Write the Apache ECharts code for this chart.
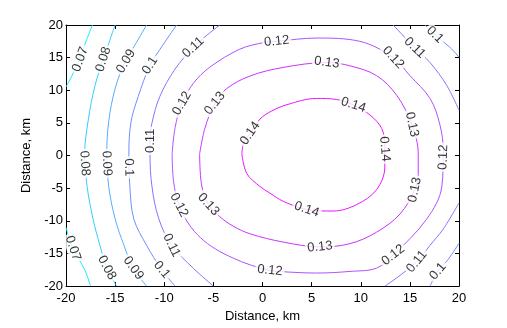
<!DOCTYPE html>
<html>
<head>
<meta charset="utf-8">
<script src="https://cdn.jsdelivr.net/npm/echarts@6/dist/echarts.min.js"></script>
<style>
    html, body { margin: 0; padding: 0; background: #fff; }
    #contour_chart { width: 507px; height: 328px; }
</style>
</head>
<body>
<div id="contour_chart"></div>
<script>
    // contour levels
    const levels = [0.07, 0.08, 0.09, 0.1, 0.11, 0.12, 0.13, 0.14];

    // contour lines as [x km, y km]
    const c07a = [[-17.3, 20], [-17.9, 17.75], [-18.75, 14.3], [-19.4, 12.2], [-20, 10.5]];
    const c07b = [[-20, -11], [-19.3, -14.2], [-18.1, -17.5], [-17.5, -20]];
    const c08 = [[-15.0, 20], [-16.2, 14.75], [-17.05, 10.7], [-17.75, 5.3], [-18.1, 0.2], [-17.85, -4.75],
        [-17.25, -9.7], [-16.55, -13.75], [-15.85, -17.2], [-14.85, -20]];
    const c09 = [[-11.8, 20], [-13.0, 16.9], [-13.95, 14.55], [-15.0, 10.25], [-15.65, 5.25], [-15.85, 0.25],
        [-15.65, -4.75], [-15.0, -9.7], [-14.1, -13.75], [-13.15, -17.25], [-11.8, -20]];
    const c10a = [[-8.75, 20], [-10.15, 16.9], [-11.45, 13.8], [-12.65, 9.05], [-13.4, 5.0], [-13.6, 0.25],
        [-13.5, -4.75], [-13.1, -9.7], [-11.8, -13.75], [-10.25, -17.5], [-8.9, -20]];
    const c10b = [[16.55, 20], [17.55, 18.5], [19.1, 16.55], [20, 15.05]];
    const c10c = [[20, -13.45], [18.9, -15.9], [17.85, -17.75], [17.05, -20]];
    const c11a = [[-4.35, 20], [-5.85, 18.2], [-7.05, 16.55], [-8.9, 13.25], [-10.45, 9.05], [-11.25, 5.0],
        [-11.45, 2.3], [-11.45, 0.25], [-11.25, -4.75], [-10.55, -9.7], [-9.25, -13.75], [-7.05, -17.25], [-5.0, -20]];
    const c11b = [[13.3, 20], [15.5, 16.5], [17.05, 14.25], [18.75, 10.75], [20, 6.95]];
    const c11c = [[20, -7.25], [18.4, -11.25], [17.05, -13.75], [15.7, -16.25], [13.65, -18.75], [12.45, -20]];
    const c12 = [[-9.2, 0.25], [-8.9, 4.25], [-8.2, 8.0], [-7.05, 11.05], [-5.35, 13.55], [-2.3, 16.3], [0.1, 17.3],
        [1.45, 17.5], [5.5, 18.0], [9.9, 17.5], [13.3, 15.0], [15.0, 12.25], [17.05, 8.75], [18.05, 4.75],
        [18.4, 0.75], [18.25, -4.75], [16.7, -9.75], [13.3, -15.25], [11.6, -17.25], [8.9, -17.75], [5.5, -18.0],
        [2.1, -17.8], [0.75, -17.6], [-1.25, -16.75], [-3.0, -15.7], [-4.8, -14.3], [-6.3, -12.6],
        [-7.5, -10.5], [-8.5, -7.6], [-9.05, -4.0], [-9.2, 0.25]];
    const c13 = [[-6.4, 0.25], [-5.85, 4.25], [-4.85, 8.0], [-3.65, 10.25], [-1.25, 12.2], [2.1, 13.5],
        [6.55, 14.25], [8.9, 13.75], [11.6, 12.25], [13.65, 9.25], [15.2, 4.75], [15.85, 0.25], [15.85, -2.75],
        [15.5, -5.25], [14.0, -8.95], [11.6, -11.75], [8.9, -13.5], [5.85, -14.0], [2.1, -13.25], [-1.25, -12.0],
        [-3.0, -10.8], [-4.4, -9.3], [-5.5, -7.5], [-6.2, -4.5], [-6.4, 0.25]];
    const c14 = [[-2.1, 0.25], [-1.9, 2.0], [-1.25, 3.4], [-0.25, 5.6], [0.9, 6.8], [2.5, 7.8], [5.5, 8.75],
        [7.5, 8.6], [9.25, 7.75], [11.3, 5.75], [12.3, 3.5], [12.45, 1.0], [12.45, -1.75], [11.6, -5.25], [9.6, -7.5],
        [7.2, -8.5], [4.5, -8.25], [2.1, -7.0], [0.75, -5.75], [-0.25, -4.75], [-1.6, -2.75], [-2.1, 0.25]];

    // where the inline labels sit, [x km, y km]
    const lab07 = [[-18.55, 14.75], [-19.3, -14.2]];
    const lab08 = [[-16.2, 14.75], [-18.1, -1.2], [-15.85, -17.2]];
    const lab09 = [[-13.9, 14.45], [-15.85, -1.2], [-13.15, -17.25]];
    const lab10 = [[-11.45, 13.8], [-13.6, -1.8], [-10.25, -17.5], [17.55, 18.5], [17.85, -17.75]];
    const lab11 = [[-7.05, 16.55], [-11.45, 2.25], [-9.25, -13.75], [15.5, 16.5], [15.7, -16.25]];
    const lab12 = [[1.45, 17.5], [13.3, 15.0], [18.4, -0.25], [13.3, -15.25], [0.75, -17.6], [-8.5, -7.6], [-8.2, 8.0]];
    const lab13 = [[6.55, 14.25], [15.2, 4.75], [15.5, -5.25], [5.85, -14.0], [-5.5, -7.5], [-4.85, 8.0]];
    const lab14 = [[9.25, 7.75], [12.45, 1.0], [4.5, -8.25], [-1.25, 3.4]];

    const contours = [
        {level: 0.07, lines: [c07a, c07b], labels: lab07},
        {level: 0.08, lines: [c08], labels: lab08},
        {level: 0.09, lines: [c09], labels: lab09},
        {level: 0.1, lines: [c10a, c10b, c10c], labels: lab10},
        {level: 0.11, lines: [c11a, c11b, c11c], labels: lab11},
        {level: 0.12, lines: [c12], labels: lab12},
        {level: 0.13, lines: [c13], labels: lab13},
        {level: 0.14, lines: [c14], labels: lab14}
    ];

    const font = 'Liberation Sans, Arial, Helvetica, sans-serif';

    // matlab "cool" colormap
    function levelColor(v) {
        const lo = levels[0], hi = levels[levels.length - 1];
        const t = 0.08 + 0.84 * (v - lo) / (hi - lo);
        const r = Math.round(255 * t), g = Math.round(255 * (1 - t));
        return 'rgb(' + r + ',' + g + ',255)';
    }

    function axisCommon(extra) {
        return Object.assign({
            type: 'value',
            min: -20,
            max: 20,
            interval: 5,
            axisLine: {onZero: false, lineStyle: {color: '#000', width: 1}},
            axisTick: {inside: true, length: 4, lineStyle: {color: '#000'}},
            splitLine: {show: false},
            axisLabel: {color: '#000', fontSize: 13, fontFamily: font, margin: 4}
        }, extra);
    }

    const chart = echarts.init(document.getElementById('contour_chart'), null, {renderer: 'canvas'});

    const lineSeries = [];
    contours.forEach(function (c) {
        c.lines.forEach(function (pts) {
            lineSeries.push({
                type: 'line',
                data: pts,
                showSymbol: false,
                symbol: 'none',
                smooth: 0.35,
                silent: true,
                lineStyle: {color: levelColor(c.level), width: 1},
                z: 2
            });
        });
    });

    let option = {
        animation: false,
        backgroundColor: '#fff',
        grid: {left: 66, right: 48, top: 25, bottom: 36},
        xAxis: [
            axisCommon({
                position: 'bottom',
                name: 'Distance, km',
                nameLocation: 'middle',
                nameGap: 22,
                nameTextStyle: {color: '#000', fontSize: 13, fontFamily: font},
                axisLabel: {color: '#000', fontSize: 13, fontFamily: font, margin: 6}
            }),
            axisCommon({position: 'top', axisLabel: {show: false}})
        ],
        yAxis: [
            axisCommon({
                position: 'left',
                name: 'Distance, km',
                nameLocation: 'middle',
                nameGap: 27,
                nameTextStyle: {color: '#000', fontSize: 13, fontFamily: font},
                axisLabel: {color: '#000', fontSize: 13, fontFamily: font, margin: 3}
            }),
            axisCommon({position: 'right', axisLabel: {show: false}})
        ],
        series: lineSeries
    };
    chart.setOption(option);

    // label angle follows the nearest piece of its own contour, in screen space
    function labelAngle(c, p) {
        const lp = chart.convertToPixel({xAxisIndex: 0, yAxisIndex: 0}, p);
        let best = null, bestD = Infinity;
        c.lines.forEach(function (pts) {
            for (let i = 0; i < pts.length - 1; i++) {
                const a = chart.convertToPixel({xAxisIndex: 0, yAxisIndex: 0}, pts[i]);
                const b = chart.convertToPixel({xAxisIndex: 0, yAxisIndex: 0}, pts[i + 1]);
                const mx = (a[0] + b[0]) / 2, my = (a[1] + b[1]) / 2;
                const d = (mx - lp[0]) * (mx - lp[0]) + (my - lp[1]) * (my - lp[1]);
                if (d < bestD) { bestD = d; best = [b[0] - a[0], b[1] - a[1]]; }
            }
        });
        let ang = Math.atan2(-best[1], best[0]) * 180 / Math.PI;
        if (ang > 90) ang -= 180;
        if (ang <= -90) ang += 180;
        return ang;
    }

    const labelData = [];
    contours.forEach(function (c) {
        c.labels.forEach(function (p) {
            labelData.push({
                value: p,
                label: {rotate: labelAngle(c, p), formatter: String(c.level)}
            });
        });
    });

    lineSeries.push({
        type: 'scatter',
        data: labelData,
        symbolSize: 0,
        silent: true,
        z: 5,
        label: {
            show: true,
            position: 'inside',
            color: '#000',
            fontSize: 13,
            fontFamily: font,
            backgroundColor: '#fff',
            padding: [0, 2]
        }
    });

    chart.setOption({series: lineSeries});
</script>
</body>
</html>
